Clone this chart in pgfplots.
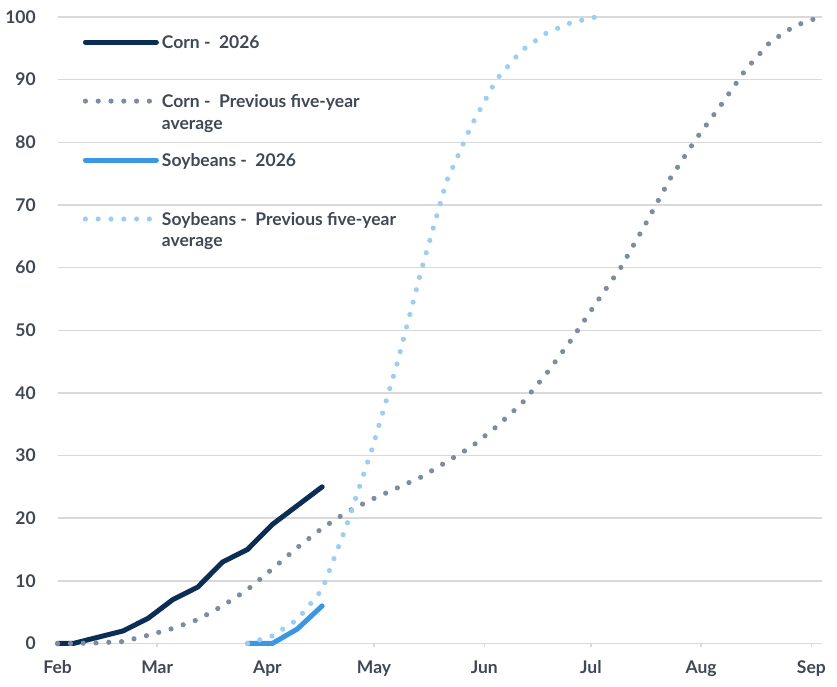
\documentclass[border=0pt]{standalone}
\usepackage{fontspec}
\setmainfont{Lato}
\usepackage{pgfplots}
\pgfplotsset{compat=1.18}
\definecolor{cornnew}{HTML}{0C2D54}
\definecolor{cornavg}{HTML}{7B8DA1}
\definecolor{soynew}{HTML}{3C97E3}
\definecolor{soyavg}{HTML}{9DCDF2}
\definecolor{gridgray}{HTML}{D9D9D9}
\definecolor{textgray}{HTML}{404855}
\begin{document}
\begin{tikzpicture}
\useasboundingbox (-57.7pt,-43pt) rectangle (780pt,644pt);
\begin{axis}[
  scale only axis, width=765pt, height=627pt,
  xmin=0, xmax=215, ymin=0, ymax=100,
  clip=false,
  axis lines=left,
  y axis line style={draw=none},
  x axis line style={draw=gridgray, line width=1.4pt, -},
  ymajorgrids, grid style={gridgray, line width=1.4pt},
  ytick={0,10,...,100},
  xtick={0,28,59,89,120,150,181,212},
  xticklabels={Feb,Mar,Apr,May,Jun,Jul,Aug,Sep},
  tick align=outside,
  major tick length=4pt,
  x tick style={draw=gridgray, line width=1.4pt},
  y tick style={draw=none},
  /pgf/number format/assume math mode=true,
  ticklabel style={font=\fontsize{17.5}{20}\selectfont\bfseries, text=textgray, inner sep=0pt},
  yticklabel style={xshift=-17.7pt},
  xticklabel style={yshift=-13pt},
  legend style={at={(axis description cs:0,1)}, anchor=north west, xshift=25pt, yshift=-17pt,
    draw=none, fill=none, inner sep=0pt, row sep=0pt, column sep=3pt,
    cells={anchor=base west},
    nodes={inner sep=0pt, text height=14pt, text depth=45pt, font=\fontsize{17.5}{22}\selectfont\bfseries, text=textgray}},
  legend image code/.code={\draw[#1] (0pt,6pt) -- (71pt,6pt);},
  every axis plot/.append style={line cap=round, line join=round},
]
\addplot[cornnew, line width=5pt] coordinates {
(0,0) (4.4,0) (11.4,1) (18.4,2) (25.4,4) (32.4,7) (39.4,9) (46.4,13) (53.4,15) (60.4,19) (67.4,22) (74.4,25)};
\addlegendentry{Corn -~~2026}
\addplot[cornavg, line width=5.2pt, dash pattern=on 0pt off 12.8pt] coordinates {
(0,0) (4.4,0) (11.4,0.1) (18.4,0.3) (25.4,1.3) (32.4,2.4) (39.4,3.8) (46.4,6.0) (53.4,8.6) (60.4,11.9) (67.4,15.3) (74.4,18.4) (81.4,21.0) (88.4,23.0) (95.4,24.8) (102.4,26.6) (109.4,29.0) (116.4,31.4) (123.4,34.6) (130.4,38.2) (137.4,43.0) (144.4,48.4) (151.4,54.3) (158.4,60.0) (165.4,67.0) (172.4,74.3) (179.4,80.4) (186.4,85.8) (193.4,91.5) (200.4,96.0) (207.4,98.6) (214.4,100)};
\addlegendentry{\vtop{\hbox{Corn -~~Previous five-year}\hbox{average}}}
\addplot[soynew, line width=5pt] coordinates {
(53.4,0) (60.4,0) (67.4,2.3) (74.4,6)};
\addlegendentry{Soybeans -~~2026}
\addplot[soyavg, line width=5.2pt, dash pattern=on 0pt off 12.8pt] coordinates {
(53.4,0) (60.4,1.2) (67.4,3.8) (74.4,8.6) (81.4,19.0) (88.4,31.0) (95.4,44.5) (102.4,59.8) (109.4,73.8) (116.4,82.7) (123.4,90.0) (130.4,94.6) (137.4,97.4) (144.4,99.1) (151.4,100)};
\addlegendentry{\vtop{\hbox{Soybeans -~~Previous five-year}\hbox{average}}}
\end{axis}
\end{tikzpicture}
\end{document}
